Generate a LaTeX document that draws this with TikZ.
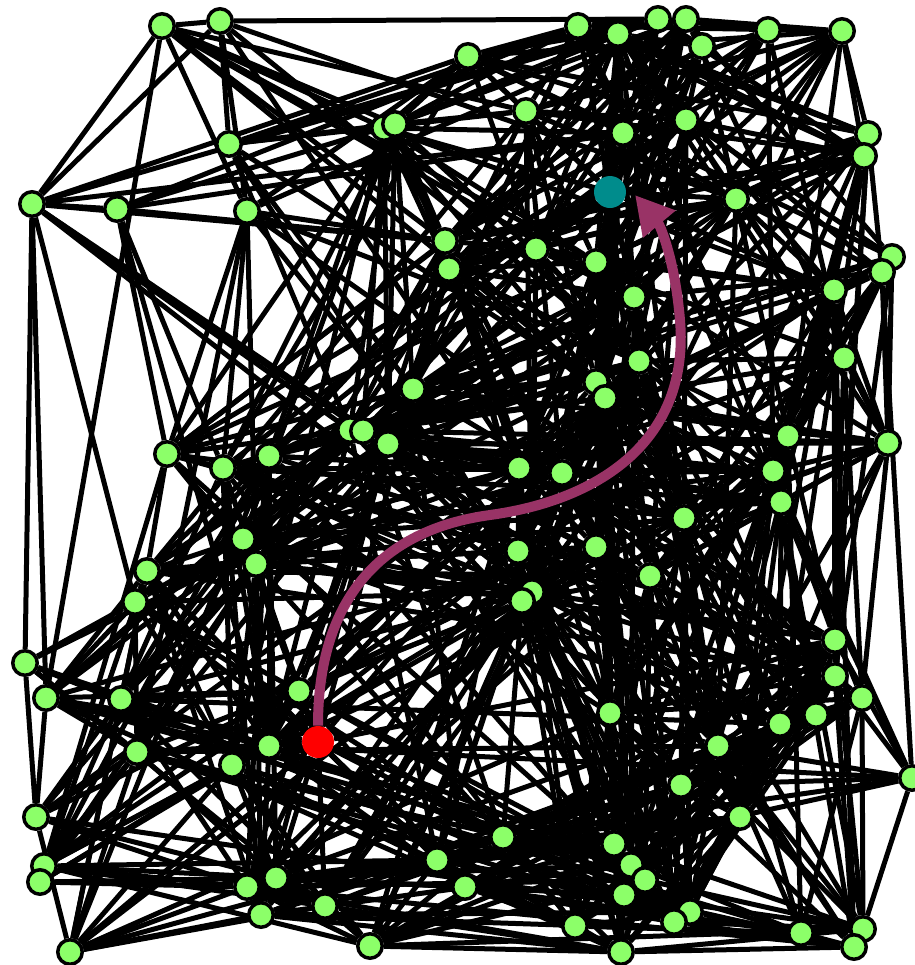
\documentclass[tikz,border=0pt]{standalone}
\usetikzlibrary{arrows.meta}
\definecolor{vgreen}{RGB}{140,255,105}
\definecolor{arrowpurple}{RGB}{153,51,102}
\definecolor{goalteal}{RGB}{0,140,140}
\definecolor{startred}{RGB}{255,0,0}
\pgfdeclarelayer{edgelayer}
\pgfsetlayers{edgelayer,main}
\newcount\dxc \newcount\dyc \newcount\dsq
\def\nodelist{162/26, 220/21, 578/26, 468/56, 526/111, 384/128, 395/124, 445/241, 449/269, 536/249,
596/262, 618/34, 658/19, 686/19, 702/46, 768/30, 842/31, 686/120, 623/133, 868/134,
864/156, 736/199, 892/257, 882/272, 834/290, 634/297, 229/144, 32/204, 117/209, 247/211,
167/454, 223/468, 269/456, 243/539, 256/564, 147/571, 135/602, 413/389, 350/430, 363/431,
388/444, 519/468, 562/473, 596/382, 605/398, 518/551, 596/547, 532/592, 522/601, 639/361,
844/358, 888/443, 788/436, 773/471, 781/502, 684/518, 650/576, 835/640, 25/663, 46/698,
121/699, 137/752, 232/765, 269/746, 299/691, 36/817, 44/866, 40/882, 247/887, 276/878,
261/915, 70/952, 437/860, 503/837, 465/887, 325/906, 370/946, 575/926, 610/713, 835/676,
862/698, 816/715, 780/724, 718/746, 681/785, 740/817, 912/778, 614/844, 631/865, 645/880,
624/895, 690/912, 674/922, 621/952, 801/933, 863/929, 854/947}
\tikzset{
  vtx/.style={circle, fill=vgreen, draw=black, line width=0.07cm, minimum size=0.49cm, inner sep=0pt},
  startnode/.style={circle, fill=startred, draw=none, minimum size=0.64cm, inner sep=0pt},
  goalnode/.style={circle, fill=goalteal, draw=none, minimum size=0.64cm, inner sep=0pt},
  edge/.style={draw=black, line width=0.1cm},
  route/.style={draw=arrowpurple, line width=0.2cm, -{Triangle[length=0.76cm,width=0.8cm]}}
}
\begin{document}
\begin{tikzpicture}[x=0.02cm, y=-0.02cm]
\useasboundingbox (0,0) rectangle (915,965);
\foreach [count=\i] \x/\y in \nodelist {
  \node[vtx] (n\i) at (\x,\y) {};
  \expandafter\xdef\csname vx\i\endcsname{\x}
  \expandafter\xdef\csname vy\i\endcsname{\y}
}
\node[startnode] (n98) at (318,742) {};
\expandafter\xdef\csname vx98\endcsname{318}
\expandafter\xdef\csname vy98\endcsname{742}
\node[goalnode] (n99) at (610,192) {};
\expandafter\xdef\csname vx99\endcsname{610}
\expandafter\xdef\csname vy99\endcsname{192}
\pgfmathsetseed{2024}
\begin{pgfonlayer}{edgelayer}
\foreach \i in {1,...,99} {
  \foreach \j in {\i,...,99} {
    \ifnum\j>\i
      \dxc=\numexpr\csname vx\j\endcsname-\csname vx\i\endcsname\relax
      \dyc=\numexpr\csname vy\j\endcsname-\csname vy\i\endcsname\relax
      \dsq=\numexpr\dxc*\dxc+\dyc*\dyc\relax
      \ifnum\dsq<490000
        \edef\dd{\the\numexpr\dsq/100\relax}
        \pgfmathtruncatemacro\keep{rnd < 0.85*exp(-sqrt(\dd)/27)}
        \ifnum\keep=1 \draw[edge] (n\i) -- (n\j); \fi
      \fi
    \fi
  }
}
\end{pgfonlayer}
\draw[route] (n98.north) .. controls (318,600) and (380,530) .. (490,515)
  .. controls (600,500) and (690,440) .. (680,320)
  .. controls (675,260) and (660,225) .. (635,195);
\end{tikzpicture}
\end{document}
